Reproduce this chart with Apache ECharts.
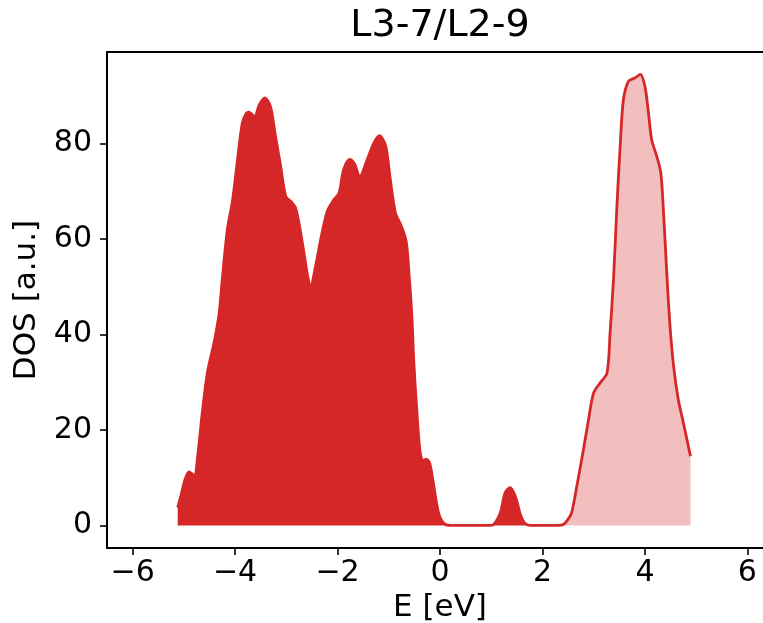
<!DOCTYPE html>
<html>
<head>
<meta charset="utf-8">
<script src="https://cdn.jsdelivr.net/npm/echarts@6/dist/echarts.min.js"></script>
<style>
  html, body { margin: 0; padding: 0; background: #fff; }
  #chart { width: 763px; height: 623px; }
</style>
</head>
<body>
<div id="chart"></div>
<script>
// energies (eV) and DOS values
const energy = [
  -5.12, -5.05, -4.98, -4.90, -4.84, -4.79, -4.73, -4.64, -4.54, -4.41,
  -4.31, -4.25, -4.15, -4.05, -3.96, -3.86, -3.78, -3.73, -3.62, -3.53,
  -3.42, -3.31, -3.21, -3.11, -3.01, -2.90, -2.82, -2.74, -2.64, -2.58,
  -2.53, -2.43, -2.33, -2.20, -2.07, -1.97, -1.88, -1.76, -1.66, -1.57,
  -1.42, -1.29, -1.18, -1.06, -0.97, -0.87, -0.76, -0.66, -0.60, -0.55,
  -0.51, -0.45, -0.39, -0.33, -0.27, -0.20, -0.12, -0.03, 0.07, 0.20,
  1.00, 1.08, 1.18, 1.27, 1.37, 1.47, 1.57, 1.66, 1.80, 2.30,
  2.41, 2.50, 2.57, 2.67, 2.80, 2.90, 3.00, 3.13, 3.26, 3.32,
  3.39, 3.45, 3.52, 3.58, 3.68, 3.81, 3.91, 4.00, 4.07, 4.13,
  4.23, 4.31, 4.36, 4.43, 4.49, 4.56, 4.65, 4.75, 4.89
]
const dos = [
  3.8, 6.5, 9.5, 11.2, 10.8, 10.3, 14.5, 23.6, 32.0, 38.3,
  44.5, 51.5, 62.0, 68.0, 75.9, 84.2, 86.3, 86.5, 85.6, 88.0,
  89.5, 87.7, 81.4, 75.2, 68.9, 67.7, 66.5, 62.5, 56.0, 52.0,
  49.9, 54.2, 59.8, 65.8, 68.2, 69.6, 74.5, 76.6, 75.5, 73.0,
  76.6, 80.1, 81.6, 79.4, 72.4, 65.4, 62.8, 59.5, 52.0, 44.0,
  34.0, 23.6, 15.5, 13.5, 13.9, 13.0, 8.2, 2.7, 0.5, 0.0,
  0.0, 0.6, 2.7, 6.8, 7.9, 6.1, 2.3, 0.4, 0.0, 0.0,
  0.2, 1.3, 2.7, 8.2, 15.9, 22.2, 27.8, 29.9, 31.9, 40.3,
  52.2, 66.1, 80.0, 89.1, 93.0, 93.7, 94.4, 91.9, 86.3, 80.8,
  77.3, 73.8, 66.1, 52.2, 41.7, 33.3, 26.4, 21.5, 14.5
]
const fermi = 2.41
const xTicks = [-6, -4, -2, 0, 2, 4, 6]
const yTicks = [0, 20, 40, 60, 80]

const red = '#d62728'
const font = 'DejaVu Sans'

const all = energy.map((e, i) => [e, dos[i]])
const occupied = all.filter(p => p[0] <= fermi)
const empty = all.filter(p => p[0] >= fermi)

const chart = echarts.init(document.getElementById('chart'))
chart.setOption({
  animation: false,
  grid: {
    left: 107, top: 52, width: 666, height: 496,
    show: true, borderColor: '#000', borderWidth: 2,
    outerBoundsMode: 'none'
  },
  graphic: [{
    type: 'text', x: 440, y: 26,
    style: { text: 'L3-7/L2-9', font: '38px "DejaVu Sans"', fill: '#000',
             textAlign: 'center', textVerticalAlign: 'middle' }
  }],
  xAxis: {
    type: 'value', min: -6.5, max: 6.5,
    name: 'E [eV]', nameLocation: 'middle', nameGap: 36,
    nameTextStyle: { fontFamily: font, fontSize: 31, color: '#000' },
    axisLine: { show: false, onZero: false },
    splitLine: { show: false },
    axisTick: { show: true, inside: false, length: 7, customValues: xTicks,
                lineStyle: { color: '#000', width: 1.6 } },
    axisLabel: { customValues: xTicks, margin: 10, fontFamily: font, fontSize: 30, color: '#000',
                 formatter: v => (v < 0 ? '\u2212' + Math.abs(v) : '' + v) }
  },
  yAxis: {
    type: 'value', min: -4.72, max: 99.1,
    name: 'DOS [a.u.]', nameLocation: 'middle', nameGap: 62,
    nameTextStyle: { fontFamily: font, fontSize: 31, color: '#000' },
    axisLine: { show: false, onZero: false },
    splitLine: { show: false },
    axisTick: { show: true, inside: false, length: 7, customValues: yTicks,
                lineStyle: { color: '#000', width: 1.6 } },
    axisLabel: { customValues: yTicks, margin: 15, fontFamily: font, fontSize: 30, color: '#000' }
  },
  series: [
    {
      type: 'line', data: empty, symbol: 'none', smooth: 0.3,
      lineStyle: { width: 0 },
      areaStyle: { color: red, opacity: 0.3, origin: 'auto' }
    },
    {
      type: 'line', data: occupied, symbol: 'none', smooth: 0.3,
      lineStyle: { width: 0 },
      areaStyle: { color: red, opacity: 1, origin: 'auto' }
    },
    {
      type: 'line', data: all, symbol: 'none', smooth: 0.3,
      lineStyle: { color: red, width: 2.8 }
    }
  ]
})
</script>
</body>
</html>
